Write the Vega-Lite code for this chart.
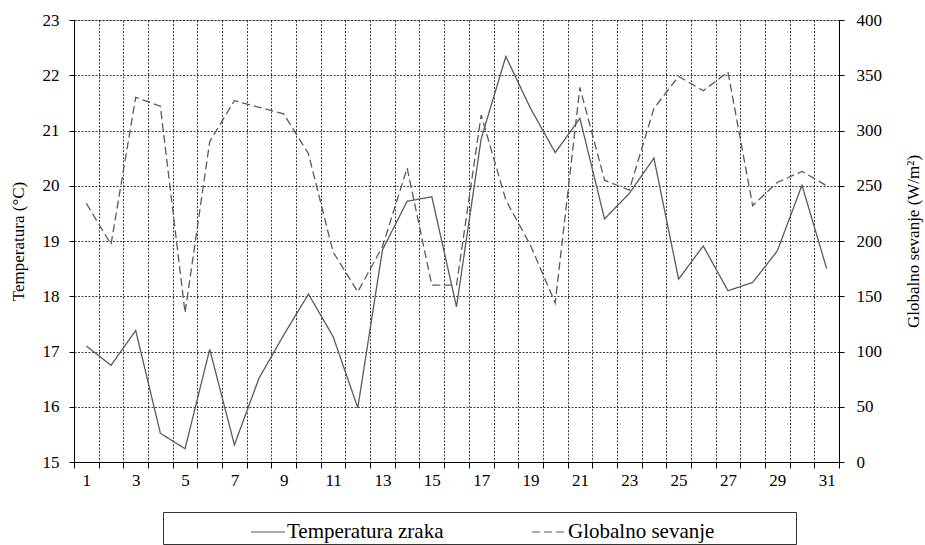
{
  "$schema": "https://vega.github.io/schema/vega-lite/v6.json",
  "width": 765,
  "height": 442,
  "autosize": {"type": "none"},
  "padding": {"left": 74, "top": 20, "right": 86, "bottom": 83},
  "background": "white",
  "config": {
    "font": "Liberation Serif",
    "view": {"stroke": "#c0c0c0", "strokeWidth": 1},
    "axis": {
      "labelFont": "Liberation Serif",
      "titleFont": "Liberation Serif",
      "labelFontSize": 17,
      "titleFontSize": 17,
      "titleFontWeight": "normal",
      "labelColor": "#000",
      "titleColor": "#000",
      "domainColor": "#000",
      "domainWidth": 1,
      "tickColor": "#000",
      "gridColor": "#000",
      "gridDash": [2, 1.5],
      "gridWidth": 0.8,
      "gridOpacity": 0.95
    },
    "legend": {
      "labelFont": "Liberation Serif",
      "labelFontSize": 21,
      "labelColor": "#000",
      "labelLimit": 400
    }
  },
  "data": {
    "values": [
      {"day": 1, "temp": 17.1, "rad": 234},
      {"day": 2, "temp": 16.75, "rad": 197},
      {"day": 3, "temp": 17.38, "rad": 330},
      {"day": 4, "temp": 15.52, "rad": 322},
      {"day": 5, "temp": 15.24, "rad": 135},
      {"day": 6, "temp": 17.04, "rad": 290},
      {"day": 7, "temp": 15.31, "rad": 327},
      {"day": 8, "temp": 16.52, "rad": 321},
      {"day": 9, "temp": 17.3, "rad": 315},
      {"day": 10, "temp": 18.04, "rad": 279},
      {"day": 11, "temp": 17.27, "rad": 190},
      {"day": 12, "temp": 15.98, "rad": 154},
      {"day": 13, "temp": 18.84, "rad": 195},
      {"day": 14, "temp": 19.72, "rad": 266},
      {"day": 15, "temp": 19.8, "rad": 160},
      {"day": 16, "temp": 17.81, "rad": 160},
      {"day": 17, "temp": 20.85, "rad": 314},
      {"day": 18, "temp": 22.34, "rad": 237},
      {"day": 19, "temp": 21.4, "rad": 196},
      {"day": 20, "temp": 20.6, "rad": 144},
      {"day": 21, "temp": 21.22, "rad": 339},
      {"day": 22, "temp": 19.4, "rad": 255},
      {"day": 23, "temp": 19.86, "rad": 246},
      {"day": 24, "temp": 20.5, "rad": 320},
      {"day": 25, "temp": 18.31, "rad": 349},
      {"day": 26, "temp": 18.91, "rad": 336},
      {"day": 27, "temp": 18.1, "rad": 353},
      {"day": 28, "temp": 18.25, "rad": 232},
      {"day": 29, "temp": 18.82, "rad": 253},
      {"day": 30, "temp": 20.01, "rad": 263},
      {"day": 31, "temp": 18.5, "rad": 250}
    ]
  },
  "encoding": {
    "x": {
      "field": "day",
      "type": "ordinal",
      "bandPosition": 0.5,
      "scale": {"type": "band", "paddingInner": 0, "paddingOuter": 0},
      "axis": {
        "title": null,
        "labelAngle": 0,
        "tickBand": "extent",
        "grid": true,
        "tickSize": 6,
        "labelPadding": 4,
        "labelExpr": "datum.value % 2 == 1 ? datum.label : ''"
      }
    }
  },
  "layer": [
    {
      "mark": {"type": "line", "color": "#5a5a5a", "strokeWidth": 1.3},
      "encoding": {
        "y": {
          "field": "temp",
          "type": "quantitative",
          "scale": {"domain": [15, 23], "nice": false, "zero": false},
          "axis": {
            "orient": "left",
            "title": "Temperatura (°C)",
            "values": [15, 16, 17, 18, 19, 20, 21, 22, 23],
            "grid": true,
            "tickSize": 5,
            "labelPadding": 10,
            "titlePadding": 15
          }
        },
        "strokeDash": {
          "datum": "Temperatura zraka",
          "type": "nominal",
          "scale": {
            "domain": ["Temperatura zraka", "Globalno sevanje"],
            "range": [[1, 0], [8, 4]]
          },
          "legend": {
            "title": null,
            "orient": "none",
            "legendX": 89,
            "legendY": 492,
            "direction": "horizontal",
            "strokeColor": "#333",
            "fillColor": "#fff",
            "padding": 2,
            "symbolType": "stroke",
            "symbolSize": 1156,
            "symbolStrokeWidth": 1.2,
            "symbolStrokeColor": "#404040",
            "symbolOffset": 85,
            "labelOffset": 1,
            "columnPadding": 2,
            "labelLimit": 400,
            "labelExpr": "datum.label == 'Globalno sevanje' ? datum.label + '\u00a0\u00a0\u00a0\u00a0\u00a0\u00a0\u00a0\u00a0\u00a0\u00a0\u00a0\u00a0\u00a0\u00a0\u00a0\u200b' : datum.label"
          }
        }
      }
    },
    {
      "mark": {"type": "line", "color": "#5a5a5a", "strokeWidth": 1.3},
      "encoding": {
        "y": {
          "field": "rad",
          "type": "quantitative",
          "scale": {"domain": [0, 400], "nice": false},
          "axis": {
            "orient": "right",
            "title": "Globalno sevanje (W/m²)",
            "values": [0, 50, 100, 150, 200, 250, 300, 350, 400],
            "grid": false,
            "tickSize": 5,
            "labelPadding": 12,
            "titlePadding": 41,
            "titleAngle": -90
          }
        },
        "strokeDash": {"datum": "Globalno sevanje", "type": "nominal"}
      }
    }
  ],
  "resolve": {"scale": {"y": "independent"}}
}
